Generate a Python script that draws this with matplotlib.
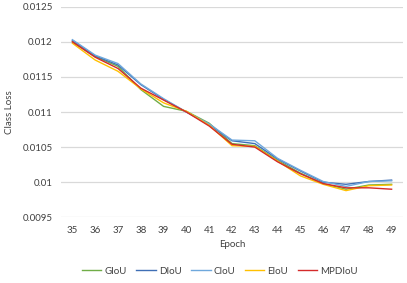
import matplotlib
matplotlib.use("Agg")
import matplotlib.pyplot as plt

epochs = [35, 36, 37, 38, 39, 40, 41, 42, 43, 44, 45, 46, 47, 48, 49]
giou   = [0.01200, 0.01179, 0.01165, 0.01132, 0.01108, 0.01101, 0.01084, 0.01055, 0.01052, 0.01031, 0.01013, 0.00998, 0.00990, 0.00996, 0.00997]
diou   = [0.01202, 0.01180, 0.01167, 0.01139, 0.01118, 0.01100, 0.01082, 0.01059, 0.01055, 0.01033, 0.01016, 0.01000, 0.00997, 0.01001, 0.01003]
ciou   = [0.01203, 0.01181, 0.01169, 0.01140, 0.01119, 0.01100, 0.01083, 0.01060, 0.01059, 0.01034, 0.01017, 0.01001, 0.00994, 0.01001, 0.01002]
eiou   = [0.01198, 0.01174, 0.01158, 0.01133, 0.01113, 0.01101, 0.01081, 0.01052, 0.01051, 0.01030, 0.01009, 0.00997, 0.00988, 0.00995, 0.00996]
mpdiou = [0.01200, 0.01178, 0.01162, 0.01134, 0.01117, 0.01100, 0.01080, 0.01054, 0.01050, 0.01029, 0.01012, 0.00998, 0.00992, 0.00992, 0.00990]

series = [("GIoU", giou, "#70AD47"), ("DIoU", diou, "#3F6FB5"), ("CIoU", ciou, "#6FA8DC"),
          ("EIoU", eiou, "#FFC000"), ("MPDIoU", mpdiou, "#D42A2A")]
yticks = [0.0095, 0.01, 0.0105, 0.011, 0.0115, 0.012, 0.0125]
ylabels = ["0.0095", "0.01", "0.0105", "0.011", "0.0115", "0.012", "0.0125"]

plt.rcParams['font.family'] = ['Lato', 'DejaVu Sans']
fig = plt.figure(figsize=(4.07, 2.83), dpi=100)
ax = fig.add_axes([61/407, 1-217.3/283, 342/407, (217.3-6.7)/283])
for name, vals, c in series:
    ax.plot(epochs, vals, color=c, lw=1.0, label=name)
ax.set_xlim(34.5, 49.5)
ax.set_ylim(0.0095, 0.0125)
ax.set_yticks(yticks)
ax.set_yticklabels(ylabels)
ax.set_xticks(epochs)
ax.set_xticklabels([str(e) for e in epochs])
for s in ax.spines.values():
    s.set_visible(False)
ax.grid(axis='y', color='#D9D9D9', lw=0.9)
ax.set_axisbelow(True)
ax.tick_params(length=0, labelsize=7, colors='#404040', pad=6)
ax.set_xlabel("Epoch", fontsize=7, color='#404040', labelpad=4)
ax.set_ylabel("Class Loss", fontsize=7, color='#404040', labelpad=6)
leg = fig.legend(loc='lower center', ncol=5, frameon=False, fontsize=7,
                 bbox_to_anchor=(0.54, -0.005), handlelength=2.0, columnspacing=1.0,
                 handletextpad=0.3, labelcolor='#404040')
fig.savefig("out.png", dpi=100)
